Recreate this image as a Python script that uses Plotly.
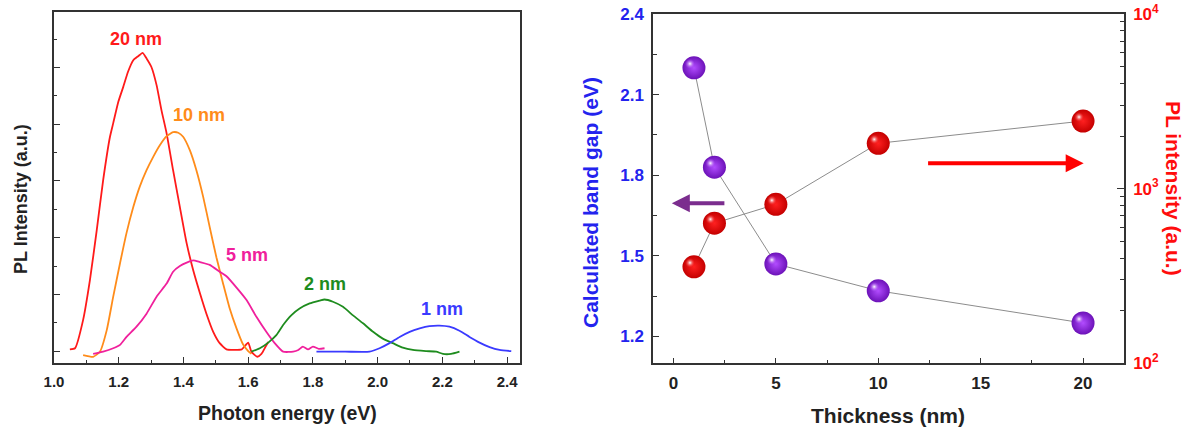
import plotly.graph_objects as go

# ---------------- Left panel: PL spectra ----------------
e_20nm = [1.049, 1.065, 1.090, 1.111, 1.132, 1.152, 1.173, 1.183, 1.199, 1.214, 1.229, 1.245,
          1.260, 1.274, 1.286, 1.301, 1.317, 1.332, 1.348, 1.368, 1.389, 1.410, 1.430, 1.451,
          1.471, 1.492, 1.512, 1.533, 1.555, 1.580, 1.600, 1.610, 1.628, 1.641, 1.654, 1.662]
i_20nm = [0.03, 0.05, 0.55, 1.25, 2.13, 3.02, 3.78, 4.02, 4.40, 4.66, 4.93, 5.13,
          5.20, 5.26, 5.16, 5.01, 4.69, 4.25, 3.84, 3.19, 2.54, 1.90, 1.43, 1.02,
          0.66, 0.34, 0.14, 0.03, 0.02, 0.03, 0.15, -0.01, -0.10, -0.05, 0.08, 0.16]

e_10nm = [1.090, 1.121, 1.142, 1.163, 1.183, 1.204, 1.224, 1.245, 1.265, 1.286, 1.307, 1.327,
          1.348, 1.368, 1.384, 1.399, 1.420, 1.440, 1.461, 1.481, 1.502, 1.523, 1.543, 1.564,
          1.584, 1.600, 1.610]
i_10nm = [-0.07, -0.10, -0.01, 0.37, 0.96, 1.55, 2.08, 2.54, 2.90, 3.19, 3.43, 3.63,
          3.79, 3.86, 3.85, 3.78, 3.54, 3.19, 2.72, 2.19, 1.65, 1.18, 0.75, 0.40,
          0.12, 0.0, -0.05]

e_5nm = [1.121, 1.152, 1.183, 1.204, 1.224, 1.255, 1.286, 1.317, 1.348, 1.368, 1.389, 1.410,
         1.430, 1.451, 1.481, 1.512, 1.533, 1.564, 1.595, 1.626, 1.656, 1.682, 1.708, 1.739,
         1.755, 1.769, 1.785, 1.800, 1.818, 1.836]
i_5nm = [-0.05, -0.01, 0.05, 0.11, 0.25, 0.43, 0.66, 0.96, 1.19, 1.40, 1.50, 1.56,
         1.60, 1.57, 1.52, 1.40, 1.32, 1.12, 0.90, 0.60, 0.34, 0.14, -0.01, -0.01,
         0.02, 0.08, 0.03, 0.08, 0.04, 0.05]

e_2nm = [1.610, 1.636, 1.662, 1.687, 1.708, 1.733, 1.759, 1.790, 1.821, 1.836, 1.862, 1.893,
         1.924, 1.955, 1.986, 2.016, 2.047, 2.078, 2.109, 2.150, 2.181, 2.202, 2.227, 2.253]
i_2nm = [-0.01, 0.05, 0.15, 0.28, 0.46, 0.63, 0.75, 0.84, 0.89, 0.91, 0.87, 0.78,
         0.63, 0.49, 0.34, 0.22, 0.14, 0.06, 0.02, 0.0, -0.01, -0.05, -0.05, -0.01]

e_1nm = [1.811, 1.900, 1.975, 2.006, 2.037, 2.068, 2.099, 2.130, 2.160, 2.191, 2.222, 2.253,
         2.284, 2.315, 2.346, 2.377, 2.413]
i_1nm = [-0.01, -0.01, -0.01, 0.05, 0.14, 0.25, 0.34, 0.40, 0.44, 0.45, 0.43, 0.36,
         0.25, 0.15, 0.07, 0.02, 0.0]

spectra_labels = ["20 nm", "10 nm", "5 nm", "2 nm", "1 nm"]
spectra_colors = ["#ff1a1a", "#ff8c1a", "#f0209c", "#1e8c1e", "#3a3aff"]
label_pos_e = [1.253, 1.448, 1.595, 1.836, 2.198]
label_pos_i = [5.51, 4.16, 1.69, 1.19, 0.735]

# ---------------- Right panel: thickness dependence ----------------
thickness = [1, 2, 5, 10, 20]
band_gap = [2.20, 1.83, 1.47, 1.37, 1.25]
pl_intensity = [357, 634, 813, 1818, 2439]

x_ticks_right = [0, 5, 10, 15, 20]
y_ticks_gap = [1.2, 1.5, 1.8, 2.1, 2.4]
pl_tickvals = [100, 1000, 10000]
pl_ticktext = ["10<sup>2</sup>", "10<sup>3</sup>", "10<sup>4</sup>"]
pl_minor = [m * d for d in (100, 1000) for m in range(2, 10)]

FONT = "Liberation Sans, Arial, sans-serif"
W, H = 1200, 432
AX = "#333333"
BLUE = "#2323ee"
RED = "#ff0d0d"


def px(x):
    return x / W


def py(y):
    return 1 - y / H


fig = go.Figure()

spectra = [(e_20nm, i_20nm), (e_10nm, i_10nm), (e_5nm, i_5nm), (e_2nm, i_2nm), (e_1nm, i_1nm)]
for (ex, iy), col in zip(spectra, spectra_colors):
    fig.add_trace(go.Scatter(x=ex, y=iy, mode="lines", xaxis="x", yaxis="y",
                             line=dict(color=col, width=1.8, shape="spline", smoothing=0.5),
                             hoverinfo="skip"))

# band gap (purple balls)
fig.add_trace(go.Scatter(x=thickness, y=band_gap, mode="lines+markers", xaxis="x2", yaxis="y3",
                         line=dict(color="#8c8c8c", width=1),
                         marker=dict(size=23, color="#6c12b8", line=dict(width=0),
                                     gradient=dict(type="radial", color="#b24cff"))))
# PL intensity (red balls)
fig.add_trace(go.Scatter(x=thickness, y=pl_intensity, mode="lines+markers", xaxis="x2", yaxis="y4",
                         line=dict(color="#8c8c8c", width=1),
                         marker=dict(size=23, color="#c40000", line=dict(width=0),
                                     gradient=dict(type="radial", color="#ff2020"))))
# specular highlights (same data on slightly shifted hidden axes)
fig.add_trace(go.Scatter(x=thickness, y=band_gap, mode="markers", xaxis="x3", yaxis="y5",
                         marker=dict(size=10, color="rgba(178,76,255,0)", line=dict(width=0),
                                     gradient=dict(type="radial", color="#ffffff"))))
fig.add_trace(go.Scatter(x=thickness, y=pl_intensity, mode="markers", xaxis="x3", yaxis="y6",
                         marker=dict(size=10, color="rgba(255,32,32,0)", line=dict(width=0),
                                     gradient=dict(type="radial", color="#ffffff"))))

tick_font = dict(family=FONT, size=15, color="#222222", weight="bold")
common = dict(showline=True, linecolor=AX, linewidth=1.5, ticks="inside", tickcolor=AX,
              tickwidth=1.2, showgrid=False, zeroline=False, automargin=False)

annotations = []
for lab, col, ex, iy in zip(spectra_labels, spectra_colors, label_pos_e, label_pos_i):
    annotations.append(dict(text=lab, x=ex, y=iy, xref="x", yref="y", showarrow=False,
                            xanchor="center", yanchor="middle",
                            font=dict(family=FONT, size=18, color=col, weight="bold")))


def title(text, x, y, size, color, angle=0):
    return dict(text=text, x=px(x), y=py(y), xref="paper", yref="paper", textangle=angle,
                showarrow=False, xanchor="center", yanchor="middle",
                font=dict(family=FONT, size=size, color=color, weight="bold"))


annotations += [
    title("PL Intensity (a.u.)", 21, 199, 18, "#222222", -90),
    title("Photon energy (eV)", 287, 413, 19.5, "#222222"),
    title("Calculated band gap (eV)", 590.5, 202.5, 21, BLUE, -90),
    title("PL intensity (a.u.)", 1173, 188, 21, RED, 90),
    title("Thickness (nm)", 888, 415, 21, "#222222"),
    # direction arrows
    dict(text="", x=-0.08, y=1.696, ax=2.56, ay=1.696, xref="x2", yref="y3", axref="x2", ayref="y3",
         showarrow=True, arrowhead=2, arrowwidth=4, arrowsize=0.9, arrowcolor="#7b2d8e"),
    dict(text="", x=20.03, y=1.845, ax=12.36, ay=1.845, xref="x2", yref="y3", axref="x2", ayref="y3",
         showarrow=True, arrowhead=2, arrowwidth=4, arrowsize=0.9, arrowcolor="#ff0000"),
]

dx_hl = 4 * 23 / 471.0
dy_hl = 4 * 1.3 / 349.0
dlog_hl = 4 * 2.0 / 349.0

fig.update_layout(
    width=W, height=H, autosize=False,
    margin=dict(l=0, r=0, t=0, b=0, pad=0, autoexpand=False),
    paper_bgcolor="white", plot_bgcolor="white", showlegend=False,
    xaxis=dict(domain=[px(54), px(520)], range=[1.0, 2.44], anchor="y", mirror=True,
               tick0=1.0, dtick=0.2, tickformat=".1f", ticklen=6, tickfont=tick_font,
               ticklabelstandoff=4,
               minor=dict(ticks="inside", ticklen=3, dtick=0.1, tick0=1.0, tickcolor=AX),
               **common),
    yaxis=dict(domain=[py(363), py(12)], range=[-0.21, 5.98], anchor="x", mirror=True,
               showticklabels=False, tick0=0, dtick=1, ticklen=6,
               minor=dict(ticks="inside", ticklen=3, dtick=0.5, tick0=0, tickcolor=AX),
               **common),
    xaxis2=dict(domain=[px(653), px(1124)], range=[-1, 22], anchor="y3", mirror=True,
                tickmode="array", tickvals=x_ticks_right, ticklen=6, ticklabelstandoff=4,
                tickfont=dict(family=FONT, size=17, color="#222222", weight="bold"),
                minor=dict(ticks="inside", ticklen=4, dtick=2.5, tick0=0, tickcolor=AX),
                **common),
    yaxis3=dict(domain=[py(363.3), py(14)], range=[1.1, 2.4001], anchor="x2",
                tickmode="array", tickvals=y_ticks_gap, tickformat=".1f", ticklen=6,
                ticklabelstandoff=4,
                tickfont=dict(family=FONT, size=17, color=BLUE, weight="bold"),
                minor=dict(ticks="inside", ticklen=4, dtick=0.15, tick0=1.05, tickcolor=AX),
                **common),
    yaxis4=dict(overlaying="y3", side="right", anchor="x2", type="log", range=[2, 4],
                tickmode="array", tickvals=pl_tickvals, ticktext=pl_ticktext, ticklen=7,
                ticklabelstandoff=4,
                tickfont=dict(family=FONT, size=17, color=RED, weight="bold"),
                minor=dict(ticks="inside", ticklen=4, tickmode="array", tickvals=pl_minor,
                           tickcolor=AX),
                **common),
    xaxis3=dict(overlaying="x2", anchor="y5", range=[-1 + dx_hl, 22 + dx_hl], visible=False,
                automargin=False),
    yaxis5=dict(overlaying="y3", anchor="x3", range=[1.1 - dy_hl, 2.4001 - dy_hl], visible=False,
                automargin=False),
    yaxis6=dict(overlaying="y3", anchor="x3", type="log", range=[2 - dlog_hl, 4 - dlog_hl],
                visible=False, automargin=False),
    annotations=annotations,
)

fig.write_html("out.html", config={"displayModeBar": False},
               post_script="document.body.style.margin='0';")
